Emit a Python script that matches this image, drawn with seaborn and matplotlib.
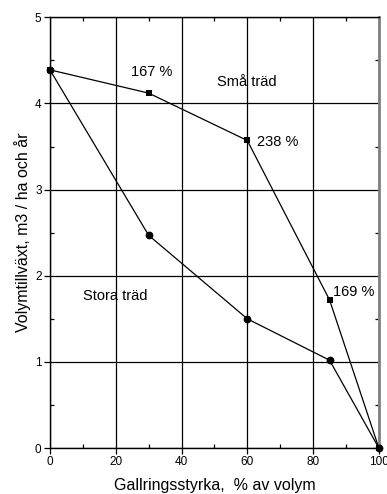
import matplotlib
matplotlib.use("Agg")
import matplotlib.pyplot as plt
import seaborn as sns
import pandas as pd
from matplotlib.ticker import MultipleLocator

gallring = [0, 30, 60, 85, 100]
sma_trad = [4.39, 4.12, 3.57, 1.72, 0.0]
stora_trad = [4.39, 2.47, 1.50, 1.02, 0.0]
xticks = [0, 20, 40, 60, 80, 100]
yticks = [0, 1, 2, 3, 4, 5]

sns.set_theme(style="white")
plt.rcParams['font.family'] = ['Liberation Sans', 'DejaVu Sans']
plt.rcParams['text.color'] = 'black'
plt.rcParams['axes.labelcolor'] = 'black'
plt.rcParams['xtick.color'] = 'black'
plt.rcParams['ytick.color'] = 'black'

df = pd.DataFrame({"x": gallring, "sma": sma_trad, "stora": stora_trad})

fig = plt.figure(figsize=(3.87, 4.94), dpi=100)
ax = fig.add_axes([0.129, 0.093, 0.850, 0.872])

ax.grid(True, which="major", color="black", linewidth=0.9)
ax.set_axisbelow(True)

sns.lineplot(data=df, x="x", y="sma", ax=ax, color="black", linewidth=0.9,
             marker="s", markersize=4.4, markeredgewidth=0, clip_on=False)
sns.lineplot(data=df, x="x", y="stora", ax=ax, color="black", linewidth=0.9,
             marker="o", markersize=5.6, markeredgewidth=0, clip_on=False)
ax.lines[-2].set_zorder(5)
ax.lines[-1].set_zorder(6)

ax.set_xlim(0, 100)
ax.set_ylim(0, 5)
ax.set_xticks(xticks)
ax.set_yticks(yticks)
ax.xaxis.set_minor_locator(MultipleLocator(10))
ax.yaxis.set_minor_locator(MultipleLocator(0.5))
ax.tick_params(which="major", direction="out", length=4, width=0.9, color="black",
               labelcolor="black", labelsize=8.5, bottom=True, left=True, pad=2)
ax.tick_params(which="minor", direction="in", length=3, width=0.9, color="black",
               bottom=True, left=True, top=True, right=True)

for side in ["left", "bottom", "top"]:
    ax.spines[side].set_color("black")
    ax.spines[side].set_linewidth(1.0)
ax.spines["right"].set_color("#808080")
ax.spines["right"].set_linewidth(2.0)

ax.set_xlabel("Gallringsstyrka,  % av volym", fontsize=11.5, labelpad=7, color="black")
ax.set_ylabel("Volymtillväxt, m3 / ha och år", fontsize=11.5, labelpad=3, color="black")

ax.text(31, 4.37, "167 %", fontsize=10.5, ha="center", va="center", color="black")
ax.text(60, 4.25, "Små träd", fontsize=10.5, ha="center", va="center", color="black")
ax.text(63, 3.55, "238 %", fontsize=10.5, ha="left", va="center", color="black")
ax.text(86, 1.81, "169 %", fontsize=10.5, ha="left", va="center", color="black")
ax.text(20, 1.76, "Stora träd", fontsize=10.5, ha="center", va="center", color="black")

fig.savefig("out.png", dpi=100)
